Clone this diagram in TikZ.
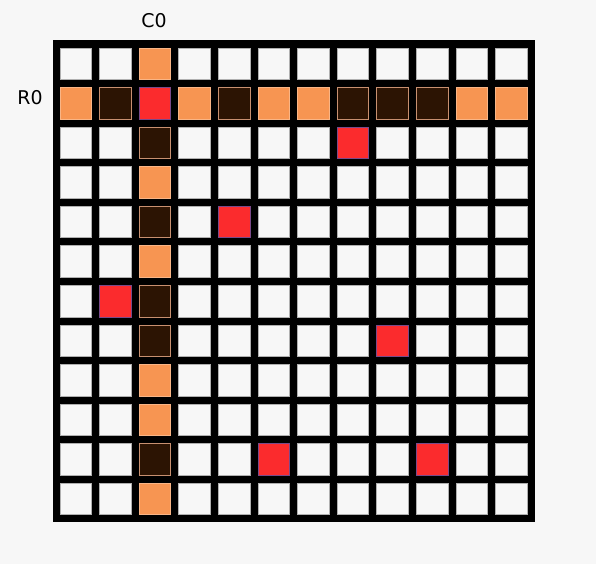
\documentclass[tikz,border=0pt]{standalone}
\usepackage{fontspec}
\setmainfont{DejaVu Sans}
\definecolor{bg}{HTML}{F7F7F7}
\definecolor{cellE}{HTML}{F7F7F7}
\definecolor{cellO}{HTML}{F79552}
\definecolor{cellD}{HTML}{2C1403}
\definecolor{cellR}{HTML}{FB2B2D}
\definecolor{edgeE}{HTML}{B0B0B0}
\definecolor{edgeD}{HTML}{C89070}
\definecolor{edgeR}{HTML}{7A4A8A}
\begin{document}
\begin{tikzpicture}[x=1bp,y=-1bp,
  lbl/.style={font=\fontsize{19}{22}\selectfont, inner sep=0pt},
  ce/.style={fill=cellE, draw=edgeE, line width=0.7bp},
  co/.style={fill=cellO, draw=cellO!70!white, line width=0.7bp},
  cd/.style={fill=cellD, draw=edgeD, line width=0.7bp},
  cr/.style={fill=cellR, draw=edgeR, line width=0.7bp}]
\path[fill=bg] (0,0) rectangle (596,564);
\useasboundingbox (0,0) rectangle (596,564);
\fill[black] (53,40) rectangle (535,522);
\def\cellmap{%
{e,e,o,e,e,e,e,e,e,e,e,e},%
{o,d,r,o,d,o,o,d,d,d,o,o},%
{e,e,d,e,e,e,e,r,e,e,e,e},%
{e,e,o,e,e,e,e,e,e,e,e,e},%
{e,e,d,e,r,e,e,e,e,e,e,e},%
{e,e,o,e,e,e,e,e,e,e,e,e},%
{e,r,d,e,e,e,e,e,e,e,e,e},%
{e,e,d,e,e,e,e,e,r,e,e,e},%
{e,e,o,e,e,e,e,e,e,e,e,e},%
{e,e,o,e,e,e,e,e,e,e,e,e},%
{e,e,d,e,e,r,e,e,e,r,e,e},%
{e,e,o,e,e,e,e,e,e,e,e,e}}
\foreach \rowlist [count=\r from 0] in \cellmap {
  \foreach \t [count=\c from 0] in \rowlist {
    \pgfmathsetmacro{\xx}{60+39.6*\c}
    \pgfmathsetmacro{\yy}{48+39.55*\r}
    \path[c\t] (\xx,\yy) rectangle ++(31.6,31.6);
  }
}
\node[lbl] (c0) at (154,21) {C0};
\node[lbl] (r0) at (30,98) {R0};
\end{tikzpicture}
\end{document}
